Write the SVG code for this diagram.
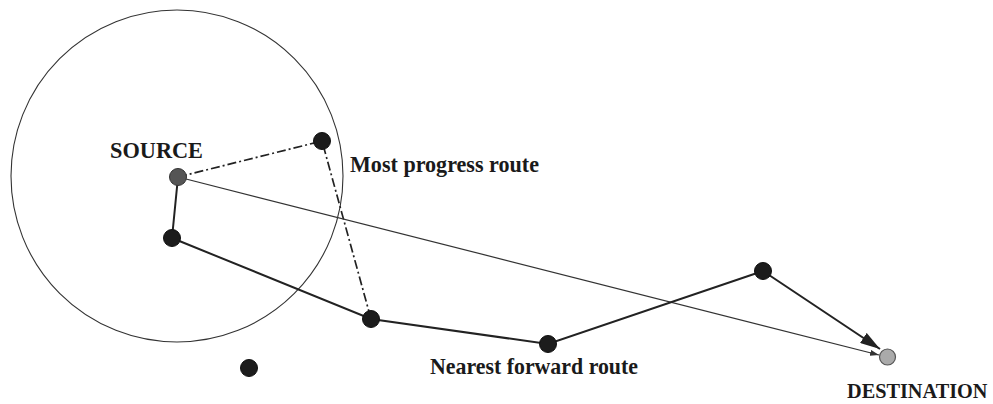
<svg xmlns="http://www.w3.org/2000/svg" width="993" height="404" viewBox="0 0 993 404">
<style>
.lbl{font-family:"Liberation Serif","Times New Roman",serif;font-weight:bold;font-size:23px;fill:#1a1a1a}
.node{fill:#1c1c1c;stroke:#111;stroke-width:1}
.route{fill:none;stroke:#222;stroke-width:2}
.thin{fill:none;stroke:#333;stroke-width:1.2}
.dd{fill:none;stroke:#222;stroke-width:1.7;stroke-dasharray:9 3 2 3}
</style>
<defs>
<marker id="bigArrow" markerWidth="22" markerHeight="12" refX="20" refY="6" orient="auto" markerUnits="userSpaceOnUse">
<path d="M0,0 L20,6 L0,12 Z" fill="#222"/>
</marker>
<marker id="smallArrow" markerWidth="10" markerHeight="6" refX="9" refY="3" orient="auto" markerUnits="userSpaceOnUse">
<path d="M0,0 L9,3 L0,6 Z" fill="#333"/>
</marker>
</defs>
<rect width="993" height="404" fill="#ffffff"/>
<circle id="range" cx="177" cy="176" r="166" fill="none" stroke="#333" stroke-width="1.1"/>
<g id="connectors">
<path class="dd" d="M178,177 L322,141 L371,319"/>
<path class="thin" d="M186,179 L879,355" marker-end="url(#smallArrow)"/>
<path class="route" d="M178,177 L172,238 L371,319 L548,344 L763,271"/>
<path class="route" d="M763,271 L880,349" marker-end="url(#bigArrow)"/>
</g>
<g id="source"><circle cx="178" cy="177" r="8.5" fill="#555" stroke="#333" stroke-width="1"/><text class="lbl" x="110" y="158" textLength="93" lengthAdjust="spacingAndGlyphs">SOURCE</text></g>
<g id="n1"><circle class="node" cx="172" cy="238" r="8.5"/></g>
<g id="n2"><circle class="node" cx="322" cy="141" r="8.5"/><text class="lbl" x="350" y="172" textLength="189" lengthAdjust="spacingAndGlyphs">Most progress route</text></g>
<g id="n3"><circle class="node" cx="371" cy="319" r="8.5"/></g>
<g id="n4"><circle class="node" cx="548" cy="344" r="8.5"/><text class="lbl" x="430" y="374" textLength="208" lengthAdjust="spacingAndGlyphs">Nearest forward route</text></g>
<g id="n5"><circle class="node" cx="763" cy="271" r="8.5"/></g>
<g id="n6"><circle class="node" cx="249" cy="368" r="8.5"/></g>
<g id="destination"><circle cx="887.5" cy="357" r="8" fill="#aaa" stroke="#555" stroke-width="1.2"/><text class="lbl" x="847" y="398" style="font-size:20.3px">DESTINATION</text></g>
</svg>
